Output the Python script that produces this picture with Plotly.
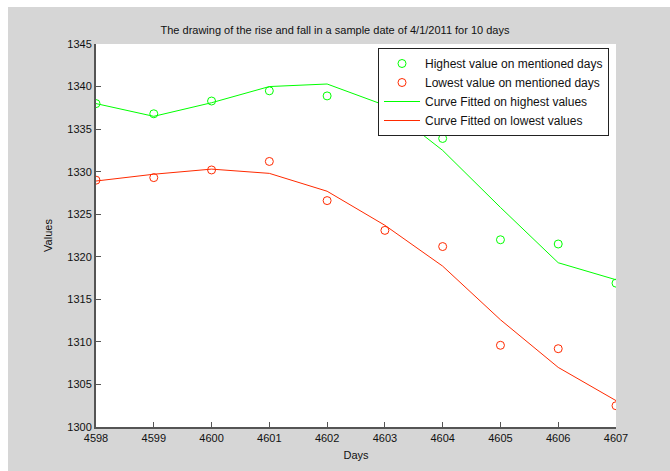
import plotly.graph_objects as go

days = [4598, 4599, 4600, 4601, 4602, 4603, 4604, 4605, 4606, 4607]
high_vals = [1338.0, 1336.8, 1338.3, 1339.5, 1338.9, 1337.5, 1333.9, 1322.0, 1321.5, 1316.9]
low_vals = [1329.0, 1329.3, 1330.2, 1331.2, 1326.6, 1323.1, 1321.2, 1309.6, 1309.2, 1302.5]
high_fit = [1338.0, 1336.5, 1338.1, 1340.0, 1340.3, 1337.8, 1332.5, 1325.8, 1319.3, 1317.3]
low_fit = [1328.9, 1329.7, 1330.3, 1329.8, 1327.7, 1323.7, 1318.9, 1312.6, 1307.0, 1303.1]

x_ticks = list(range(4598, 4608))
y_ticks = list(range(1300, 1346, 5))

GREEN = "#00ff00"
RED = "#ff2a00"
FONT = "Liberation Sans, Arial, sans-serif"

fig = go.Figure()
fig.add_trace(go.Scatter(x=days, y=high_vals, mode="markers",
                         name="Highest value on mentioned days",
                         marker=dict(symbol="circle-open", size=8, color=GREEN, line=dict(width=1))))
fig.add_trace(go.Scatter(x=days, y=low_vals, mode="markers",
                         name="Lowest value on mentioned days",
                         marker=dict(symbol="circle-open", size=8, color=RED, line=dict(width=1))))
fig.add_trace(go.Scatter(x=days, y=high_fit, mode="lines",
                         name="Curve Fitted on highest values",
                         line=dict(color=GREEN, width=1)))
fig.add_trace(go.Scatter(x=days, y=low_fit, mode="lines",
                         name="Curve Fitted on lowest values",
                         line=dict(color=RED, width=1)))

L, R, T, B = 96, 54, 44, 44
W, H = 670, 471
pw, ph = W - L - R, H - T - B

def px_x(p):
    return (p - L) / pw

def px_y(p):
    return (H - B - p) / ph

fig.update_layout(
    width=W, height=H,
    margin=dict(l=L, r=R, t=T, b=B, pad=0),
    paper_bgcolor="#d6d6d6",
    plot_bgcolor="white",
    font=dict(family=FONT, size=11, color="#111111"),
    title=dict(text="The drawing of the rise and fall in a sample date of 4/1/2011 for 10 days",
               x=px_x(356), xanchor="center", y=1 - 30 / H, yanchor="middle",
               font=dict(size=11, family=FONT, color="#111111")),
    showlegend=True,
    legend=dict(x=px_x(609), xanchor="right", y=px_y(48), yanchor="top",
                bgcolor="white", bordercolor="#222222", borderwidth=1,
                font=dict(size=12, family=FONT, color="#111111"),
                itemwidth=36, tracegroupgap=0),
    xaxis=dict(range=[4598, 4607], tickvals=x_ticks, ticktext=[str(v) for v in x_ticks],
               showgrid=False, zeroline=False, showline=True, linecolor="#555555", linewidth=2,
               ticks="inside", ticklen=5, tickcolor="#555555", tickwidth=1,
               title=dict(text="Days", standoff=8, font=dict(size=11)),
               tickfont=dict(size=11)),
    yaxis=dict(range=[1300, 1345], tickvals=y_ticks, ticktext=[str(v) for v in y_ticks],
               showgrid=False, zeroline=False, showline=True, linecolor="#555555", linewidth=2,
               ticks="inside", ticklen=5, tickcolor="#555555", tickwidth=1,
               title=dict(text="Values", standoff=12, font=dict(size=11)),
               tickfont=dict(size=11)),
    shapes=[
        dict(type="rect", xref="paper", yref="paper", x0=px_x(-5), x1=px_x(W + 5),
             y0=px_y(7), y1=px_y(-5), fillcolor="white", line=dict(width=0), layer="below"),
        dict(type="rect", xref="paper", yref="paper", x0=px_x(-5), x1=px_x(8),
             y0=px_y(H + 5), y1=px_y(-5), fillcolor="white", line=dict(width=0), layer="below"),
    ],
)

fig.write_html("out.html")
